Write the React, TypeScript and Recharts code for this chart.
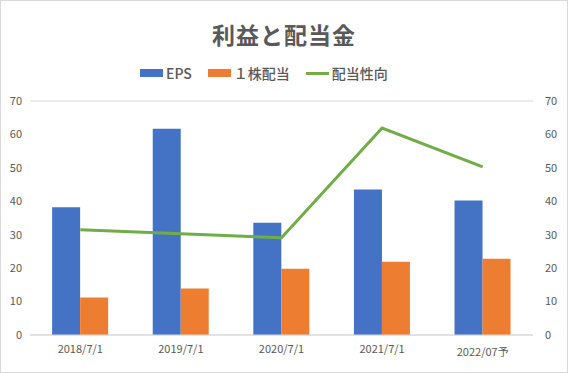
import { ComposedChart, Bar, Line, XAxis, YAxis, CartesianGrid, Legend } from 'recharts';

const categories = ['2018/7/1', '2019/7/1', '2020/7/1', '2021/7/1', '2022/07予'];
const eps = [38.2, 61.7, 33.6, 43.5, 40.2];
const dividend = [11.2, 13.9, 19.8, 21.9, 22.8];
const payoutRatio = [31.5, 30.3, 29.1, 61.9, 50.3];
const yTicks = [0, 10, 20, 30, 40, 50, 60, 70];

const seriesNames = ['EPS', '１株配当', '配当性向'];
const seriesColors = ['#4472C4', '#ED7D31', '#70AD47'];

const chartData = categories.map((c, i) => ({
  name: c,
  eps: eps[i],
  dividend: dividend[i],
  payout: payoutRatio[i],
}));

const FONT = '"Noto Sans CJK JP", "Noto Sans", sans-serif';
const TEXT = '#595959';

function XTick({ x, y, payload }: any) {
  const isForecast = String(payload.value).includes('予');
  return (
    <text
      x={x}
      y={y + (isForecast ? 13 : 10)}
      textAnchor="middle"
      fontSize={11}
      fill={TEXT}
      fontFamily={FONT}
    >
      {payload.value}
    </text>
  );
}

function LegendContent() {
  return (
    <div style={{ display: 'flex', alignItems: 'center', paddingLeft: 140, fontFamily: FONT, fontSize: 14, fontWeight: 500, color: TEXT, height: 20 }}>
      {seriesNames.map((n, i) => (
        <div key={n} style={{ display: 'flex', alignItems: 'center', marginRight: i < 2 ? 16 : 0 }}>
          {i < 2 ? (
            <span style={{ display: 'inline-block', width: 23, height: 8, background: seriesColors[i], marginRight: 3 }} />
          ) : (
            <span style={{ display: 'inline-block', width: 23, height: 3, background: seriesColors[i], marginRight: 3 }} />
          )}
          <span>{n}</span>
        </div>
      ))}
    </div>
  );
}

export default function App() {
  return (
    <div style={{ position: 'absolute', left: 0, top: 0, width: 568, height: 373, background: '#fff' }}>
      <div
        style={{
          position: 'absolute',
          top: 17,
          left: 0,
          width: 568,
          textAlign: 'center',
          fontFamily: FONT,
          fontWeight: 'bold',
          fontSize: 23,
          letterSpacing: 1,
          color: TEXT,
          zIndex: 2,
        }}
      >
        利益と配当金
      </div>
      <ComposedChart
        width={568}
        height={373}
        data={chartData}
        margin={{ top: 81, right: 0, bottom: 8, left: 0 }}
        barCategoryGap="22%"
        barGap={0}
      >
        <CartesianGrid vertical={false} stroke="#d9d9d9" />
        <XAxis
          dataKey="name"
          height={30}
          tickLine={false}
          axisLine={{ stroke: '#d9d9d9' }}
          tick={<XTick />}
          interval={0}
        />
        <YAxis
          yAxisId="left"
          width={30}
          domain={[0, 70]}
          ticks={yTicks}
          tickLine={false}
          axisLine={false}
          tick={{ fontSize: 11, fill: TEXT, fontFamily: FONT }}
        />
        <YAxis
          yAxisId="right"
          orientation="right"
          width={35}
          domain={[0, 70]}
          ticks={yTicks}
          tickLine={false}
          axisLine={false}
          tickMargin={6}
          tick={{ fontSize: 11, fill: TEXT, fontFamily: FONT }}
        />
        <Legend
          verticalAlign="top"
          height={20}
          content={<LegendContent />}
          wrapperStyle={{ top: 63, left: 0, width: 568 }}
        />
        <Bar yAxisId="left" dataKey="eps" name={seriesNames[0]} fill={seriesColors[0]} isAnimationActive={false} />
        <Bar yAxisId="left" dataKey="dividend" name={seriesNames[1]} fill={seriesColors[1]} isAnimationActive={false} />
        <Line
          yAxisId="right"
          dataKey="payout"
          name={seriesNames[2]}
          stroke={seriesColors[2]}
          strokeWidth={3}
          dot={false}
          isAnimationActive={false}
        />
      </ComposedChart>
      <div
        style={{
          position: 'absolute',
          left: 0,
          top: 0,
          width: 568,
          height: 373,
          boxSizing: 'border-box',
          border: '1px solid #d9d9d9',
          pointerEvents: 'none',
        }}
      />
    </div>
  );
}
